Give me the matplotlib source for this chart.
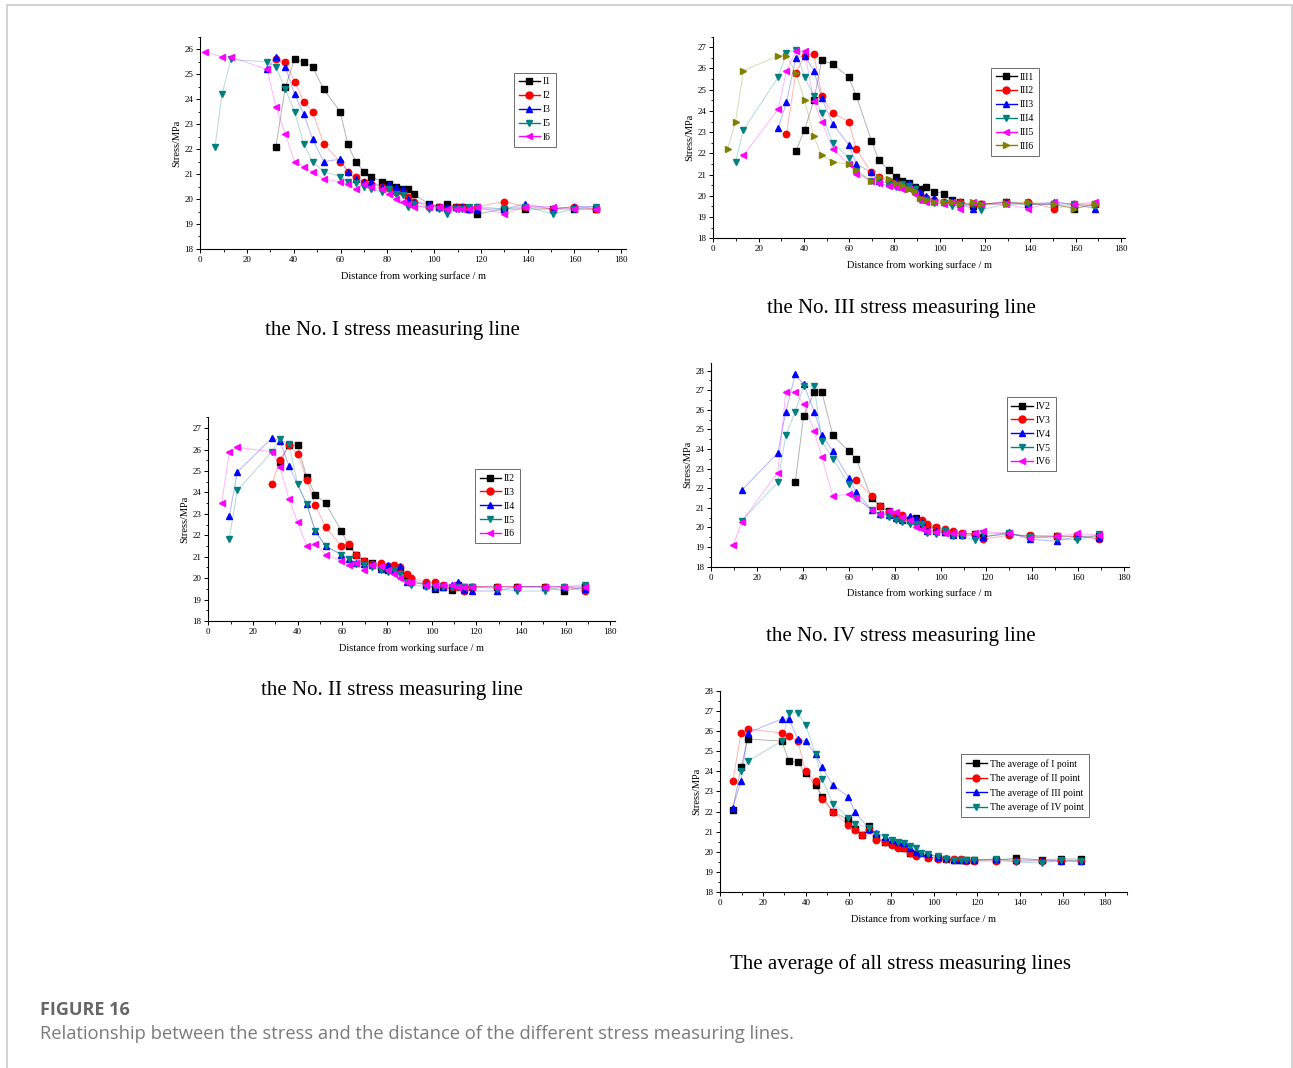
import numpy as np
import matplotlib
matplotlib.use("Agg")
import matplotlib.pyplot as plt
from matplotlib.lines import Line2D
from matplotlib.patches import Rectangle
from matplotlib.ticker import MultipleLocator

nan = np.nan

# ---- No. I line ----
dist_1 = [2, 6.3, 9.3, 13.1, 28.6, 32.3, 36.4, 40.3, 44.3, 48.0, 52.8, 59.8, 63.1, 66.4, 69.9, 73.2, 77.5,
          80.8, 83.5, 86.5, 88.9, 91.5, 97.7, 102.1, 105.6, 109.2, 111.7, 115.0, 118.5, 129.8, 138.9,
          150.9, 159.8, 169.0]
labels_1 = ["I1", "I2", "I3", "I5", "I6"]
I1 = [nan] * 5 + [22.1, 24.5, 25.6, 25.5, 25.3, 24.4, 23.5, 22.2, 21.5, 21.1, 20.9, 20.7, 20.6, 20.5, 20.4,
                  20.4, 20.2, 19.8, 19.7, 19.8, 19.7, 19.7, 19.6, 19.4, 19.6, 19.6, 19.6, 19.6, 19.6]
I2 = [nan] * 5 + [25.6, 25.5, 24.7, 23.9, 23.5, 22.2, 21.5, 21.1, 20.9, 20.7, 20.6, 20.5, 20.45, 20.3, 20.3,
                  20.1, 19.9, 19.7, 19.7, 19.6, 19.7, 19.7, 19.6, 19.7, 19.9, 19.7, 19.6, 19.7, 19.6]
I3 = [nan] * 4 + [25.2, 25.7, 25.3, 24.2, 23.4, 22.4, 21.5, 21.6, 21.1, 20.8, 20.7, 20.7, 20.5, 20.6, 20.5,
                  20.4, 20.0, 19.9, 19.8, 19.7, 19.7, 19.7, 19.7, 19.6, 19.6, 19.6, 19.8, 19.6, 19.7, 19.7]
I5 = [nan, 22.1, 24.2, 25.6, 25.5, 25.3, 24.4, 23.5, 22.2, 21.5, 21.1, 20.9, 20.7, 20.65, 20.5, 20.4, 20.3,
      20.4, 20.2, 20.15, 19.7, 19.8, 19.6, 19.6, 19.4, 19.6, 19.6, 19.7, 19.7, 19.6, 19.7, 19.4, 19.6, 19.7]
I6 = [25.9, nan, 25.7, 25.7, 25.2, 23.7, 22.6, 21.5, 21.3, 21.1, 20.8, 20.7, 20.6, 20.4, 20.6, 20.5, 20.4,
      20.2, 20.0, 19.9, 19.8, 19.7, 19.7, 19.7, 19.6, 19.6, 19.6, 19.6, 19.7, 19.4, 19.7, 19.7, 19.6, 19.6]

# ---- No. III line ----
dist_3 = [6.3, 9.8, 13.3, 28.7, 32.3, 36.4, 40.3, 44.4, 47.9, 52.7, 59.8, 63.2, 69.8, 73.0, 77.4, 80.8, 83.2,
          86.3, 89.0, 91.3, 94.0, 97.7, 102.1, 105.4, 109.0, 114.7, 118.3, 129.4, 138.8, 150.7, 159.5, 168.7]
labels_3 = ["III1", "III2", "III3", "III4", "III5", "III6"]
III1 = [nan] * 5 + [22.1, 23.1, 24.5, 26.4, 26.2, 25.6, 24.7, 22.6, 21.7, 21.2, 20.9, 20.7, 20.6, 20.4, 20.3,
                    20.4, 20.2, 20.1, 19.8, 19.7, 19.5, 19.6, 19.7, 19.6, 19.6, 19.4, 19.6]
III2 = [nan] * 4 + [22.9, 25.8, 26.6, 26.7, 24.7, 23.9, 23.5, 22.2, 21.1, 20.9, 20.7, 20.6, 20.45, 20.4, 20.2,
                    20.1, 19.9, 19.8, 19.7, 19.7, 19.7, 19.6, 19.6, 19.7, 19.7, 19.4, 19.6, 19.6]
III3 = [nan] * 3 + [23.2, 24.4, 26.5, 26.6, 25.9, 24.6, 23.4, 22.4, 21.5, 21.1, 20.7, 20.6, 20.7, 20.5, 20.6,
                    20.4, 20.2, 20.0, 19.9, 19.7, 19.8, 19.6, 19.4, 19.6, 19.7, 19.6, 19.7, 19.6, 19.4]
III4 = [nan, 21.6, 23.1, 25.6, 26.75, 26.87, 25.6, 24.7, 23.9, 22.5, 21.8, 21.15, 20.7, 20.6, 20.5, 20.4,
        20.55, 20.45, 20.3, 19.8, 19.8, 19.65, 19.65, 19.5, 19.6, 19.6, 19.35, 19.6, 19.6, 19.6, 19.6, 19.5]
III5 = [nan, nan, 21.9, 24.1, 25.9, 26.8, 26.8, 24.45, 23.5, 22.2, 21.5, 21.05, 20.7, 20.6, 20.45, 20.4,
        20.3, 20.3, 20.1, 19.8, 19.7, 19.7, 19.6, 19.7, 19.4, 19.7, 19.6, 19.6, 19.4, 19.7, 19.6, 19.7]
III6 = [22.2, 23.5, 25.9, 26.6, 26.6, 25.8, 24.5, 22.8, 21.9, 21.6, 21.5, 21.2, 20.7, 20.9, 20.8, 20.6, 20.5,
        20.3, 20.25, 19.9, 19.8, 19.7, 19.7, 19.7, 19.6, 19.7, 19.6, 19.6, 19.7, 19.6, 19.4, 19.6]

# ---- No. II line ----
dist_2 = [6.0, 9.4, 13.0, 28.6, 32.0, 36.1, 40.0, 44.1, 47.9, 52.5, 59.6, 62.9, 66.1, 69.8, 73.1, 77.2, 80.5,
          83.0, 86.0, 88.9, 91.0, 97.7, 101.7, 105.1, 109.3, 111.8, 114.5, 118.1, 129.3, 138.4, 150.6,
          159.3, 168.5]
labels_2 = ["II2", "II3", "II4", "II5", "II6"]
II2 = [nan] * 4 + [25.4, 26.2, 26.2, 24.7, 23.9, 23.5, 22.2, 21.5, 21.1, 20.8, 20.7, 20.5, 20.4, 20.5, 20.4,
                   20.1, 19.9, 19.7, 19.5, 19.6, 19.45, 19.7, 19.6, 19.6, 19.6, 19.6, 19.6, 19.4, 19.6]
II3 = [nan] * 3 + [24.4, 25.5, 26.2, 25.8, 24.6, 23.4, 22.4, 21.5, 21.6, 21.1, 20.8, 20.65, 20.7, 20.55, 20.6,
                   20.5, 20.2, 20.0, 19.8, 19.8, 19.7, 19.6, 19.6, 19.4, 19.6, 19.6, 19.6, 19.6, 19.6, 19.4]
II4 = [nan, 22.9, 24.95, 26.55, 26.4, 25.25, nan, 23.45, 22.2, 21.5, 21.1, 20.9, 20.7, 20.65, 20.6, 20.45,
       20.6, 20.4, 20.55, 19.8, 19.8, 19.7, 19.55, 19.6, 19.7, 19.8, 19.45, 19.4, 19.4, 19.6, 19.6, 19.6, 19.5]
II5 = [nan, 21.85, 24.1, 25.9, 26.5, 26.25, 24.4, 23.45, 22.2, 21.5, 21.1, 20.9, 20.65, 20.6, 20.5, 20.4,
       20.3, 20.4, 20.2, 19.8, 19.7, 19.6, 19.6, 19.6, 19.6, 19.6, 19.6, 19.6, 19.5, 19.4, 19.4, 19.6, 19.7]
II6 = [23.5, 25.9, 26.1, 25.9, 25.2, 23.7, 22.6, 21.5, 21.6, 21.1, 20.8, 20.6, 20.7, 20.4, 20.6, 20.55, 20.4,
       20.2, 20.0, 19.8, 19.8, 19.7, 19.7, 19.7, 19.7, 19.6, 19.6, 19.6, 19.6, 19.6, 19.6, 19.6, 19.6]

# ---- No. IV line ----
dist_4 = [9.6, 13.3, 29.0, 32.5, 36.6, 40.3, 44.9, 48.2, 53.0, 60.0, 63.2, 69.9, 73.4, 77.3, 80.7, 83.2, 86.5,
          89.1, 91.9, 94.0, 98.0, 102.0, 105.4, 109.4, 114.8, 118.4, 129.8, 138.8, 150.6, 159.6, 169.0]
labels_4 = ["IV2", "IV3", "IV4", "IV5", "IV6"]
IV2 = [nan] * 4 + [22.3, 25.7, 26.9, 26.9, 24.7, 23.9, 23.5, 21.5, 21.1, 20.85, 20.65, 20.55, 20.4, 20.47,
                   20.2, 20.05, 19.95, 19.75, 19.7, 19.67, 19.67, 19.53, 19.67, 19.55, 19.55, 19.55, 19.55]
IV3 = [nan] * 10 + [22.4, 21.6, 21.1, 20.8, 20.7, 20.65, 20.4, 20.3, 20.4, 20.2, 20.0, 19.9, 19.8, 19.7,
                    19.65, 19.4, 19.6, 19.6, 19.55, 19.55, 19.4]
IV4 = [nan, 21.9, 23.8, 25.9, 27.8, 27.3, 25.9, 24.7, 23.9, 22.5, 21.8, 20.9, 20.7, 20.65, 20.5, 20.4, 20.6,
       20.5, 20.3, 19.8, 19.8, 19.75, 19.6, 19.6, 19.6, 19.5, 19.75, 19.4, 19.3, 19.55, 19.45]
IV5 = [nan, 20.35, 22.3, 24.7, 25.9, 27.2, 27.2, 24.4, 23.5, 22.2, 21.5, 20.9, 20.65, 20.55, 20.4, 20.3,
       20.2, 20.2, 20.2, 19.7, 19.65, 19.8, 19.55, 19.55, 19.35, 19.7, 19.7, 19.5, 19.45, 19.35, 19.65]
IV6 = [19.1, 20.3, 22.8, 26.9, 26.9, 26.3, 24.9, 23.6, 21.6, 21.7, 21.5, 20.9, 20.7, 20.85, 20.8, 20.55,
       20.4, 20.0, 19.9, 19.8, 19.75, 19.7, 19.7, 19.7, 19.7, 19.8, 19.7, 19.45, 19.55, 19.7, 19.6]

# ---- average of all lines ----
dist_avg = [5.8, 9.7, 12.8, 28.7, 32.1, 36.2, 39.9, 44.5, 47.7, 52.6, 59.8, 62.9, 66.3, 69.4, 72.9, 77.2, 80.2,
            83.2, 86.0, 88.8, 91.3, 93.7, 97.3, 101.6, 105.5, 109.4, 112.6, 114.8, 118.4, 129.0, 138.4,
            150.4, 159.3, 168.8]
labels_avg = ["The average of I point", "The average of II point",
              "The average of III point", "The average of IV point"]
avg_I = [22.1, 24.2, 25.6, 25.5, 24.5, 24.45, 23.9, 23.3, 22.75, 22.0, 21.6, 21.15, 20.85, 21.3, 20.7, 20.5,
         20.4, 20.3, 20.2, 19.95, 19.9, nan, 19.75, 19.7, 19.65, 19.6, 19.6, 19.6, 19.6, 19.6, 19.7, 19.6,
         19.65, 19.65]
avg_II = [23.5, 25.9, 26.1, 25.9, 25.75, 25.5, 24.0, 23.5, 22.65, 22.0, 21.35, 21.1, 20.85, 21.1, 20.6, 20.5,
          20.35, 20.2, 20.2, 19.95, 19.8, nan, 19.7, 19.65, 19.65, 19.65, 19.65, 19.55, 19.55, 19.55, 19.55,
          19.55, 19.55, 19.55]
avg_III = [22.2, 23.5, 25.9, 26.6, 26.6, 25.6, 25.5, 24.85, 24.2, 23.3, 22.75, 22.0, nan, 21.15, 20.95, 20.75,
           20.6, 20.5, 20.45, 20.2, 20.0, 19.95, 19.9, 19.75, 19.7, 19.6, 19.6, 19.6, 19.6, 19.65, 19.6, 19.6,
           19.55, 19.55]
avg_IV = [nan, 24.0, 24.5, 25.5, 26.9, 26.9, 26.3, 24.85, 23.6, 22.4, 21.7, 21.4, nan, 21.2, 20.9, 20.75,
          20.6, 20.5, 20.45, 20.3, 20.2, 19.95, 19.9, 19.8, 19.65, 19.6, 19.6, 19.6, 19.6, 19.65, 19.5, 19.45,
          19.6, 19.55]

colors = ["black", "#ff0000", "#0000ff", "#008080", "#ff00ff", "#808000"]
markers = ["s", "o", "^", "v", "<", ">"]

serif = ["Liberation Serif", "DejaVu Serif"]
plt.rcParams["font.family"] = serif
plt.rcParams["xtick.direction"] = "out"
plt.rcParams["ytick.direction"] = "out"


def draw_panel(ax, dist, series, labels, cols, marks, ytop, ymaxtick, leg_xy, xmax=182):
    dist = np.array(dist, float)
    handles = []
    for vals, lab, c, mk in zip(series, labels, cols, marks):
        y = np.array(vals, float)
        m = ~np.isnan(y)
        ax.plot(dist[m], y[m], color=c, lw=0.7, alpha=0.3, zorder=2)
        ax.plot(dist[m], y[m], ls="none", marker=mk, ms=4.6, color=c, mec=c, zorder=3)
        handles.append(Line2D([0], [0], color=c, lw=1.0, marker=mk, ms=5, label=lab))
    ax.set_xlim(0, xmax)
    ax.set_ylim(18, ytop)
    ax.set_xticks(np.arange(0, 181, 20))
    ax.set_yticks(np.arange(18, ymaxtick + 1, 1))
    ax.xaxis.set_minor_locator(MultipleLocator(10))
    ax.yaxis.set_minor_locator(MultipleLocator(0.5))
    ax.tick_params(which="major", length=3, width=0.7, labelsize=6.5, pad=2)
    ax.tick_params(which="minor", length=1.8, width=0.6)
    for s in ["top", "right"]:
        ax.spines[s].set_visible(False)
    for s in ["left", "bottom"]:
        ax.spines[s].set_linewidth(0.8)
    ax.set_xlabel("Distance from working surface / m", fontsize=7.5, labelpad=5)
    ax.set_ylabel("Stress/MPa", fontsize=7.5, labelpad=2)
    leg = ax.legend(handles=handles, loc="upper left", bbox_to_anchor=leg_xy, fontsize=7,
                    frameon=True, fancybox=False, edgecolor="#555555", framealpha=1,
                    handlelength=2.2, handletextpad=0.3, labelspacing=0.5, borderpad=0.5)
    leg.get_frame().set_linewidth(0.6)


fig = plt.figure(figsize=(12.93, 10.68), dpi=100)

ax1 = fig.add_axes([0.1549, 0.7669, 0.3292, 0.1985])
draw_panel(ax1, dist_1, [I1, I2, I3, I5, I6], labels_1, colors[:5], markers[:5], 26.5, 26, (0.725, 0.855))

ax3 = fig.add_axes([0.5517, 0.7769, 0.3186, 0.1888])
draw_panel(ax3, dist_3, [III1, III2, III3, III4, III5, III6], labels_3, colors, markers, 27.5, 27,
           (0.662, 0.87))

ax2 = fig.add_axes([0.1611, 0.4185, 0.3143, 0.1907])
draw_panel(ax2, dist_2, [II2, II3, II4, II5, II6], labels_2, colors[:5], markers[:5], 27.5, 27,
           (0.644, 0.77))

ax4 = fig.add_axes([0.5501, 0.4694, 0.3228, 0.1910])
draw_panel(ax4, dist_4, [IV2, IV3, IV4, IV5, IV6], labels_4, colors[:5], markers[:5], 28.4, 28,
           (0.696, 0.855))

ax5 = fig.add_axes([0.5571, 0.1645, 0.3143, 0.1888])
draw_panel(ax5, dist_avg, [avg_I, avg_II, avg_III, avg_IV], labels_avg, colors[:4], markers[:4], 28, 28,
           (0.58, 0.71), xmax=190)

# sub-figure titles
title_fs = 15
fig.text(392 / 1293, 1 - 331 / 1068, "the No. I stress measuring line", ha="center", va="center",
         fontsize=title_fs)
fig.text(901 / 1293, 1 - 309 / 1068, "the No. III stress measuring line", ha="center", va="center",
         fontsize=title_fs)
fig.text(392 / 1293, 1 - 691 / 1068, "the No. II stress measuring line", ha="center", va="center",
         fontsize=title_fs)
fig.text(901 / 1293, 1 - 637 / 1068, "the No. IV stress measuring line", ha="center", va="center",
         fontsize=title_fs)
fig.text(901 / 1293, 1 - 964 / 1068, "The average of all stress measuring lines", ha="center", va="center",
         fontsize=title_fs)

# caption
sans = ["Open Sans", "DejaVu Sans"]
fig.text(40 / 1293, 1 - 1010 / 1068, "FIGURE 16", ha="left", va="center", fontsize=13, fontweight="bold",
         color="#666666", family=sans)
fig.text(40 / 1293, 1 - 1034 / 1068,
         "Relationship between the stress and the distance of the different stress measuring lines.",
         ha="left", va="center", fontsize=13.2, color="#7a7a7a", family=sans)

# outer frame
fig.patches.append(Rectangle((7 / 1293, -0.05), (1292 - 7) / 1293, 1.05 - 5 / 1068,
                             transform=fig.transFigure, fill=False, edgecolor="#cccccc", lw=1.2))

fig.savefig("out.png", dpi=100)
